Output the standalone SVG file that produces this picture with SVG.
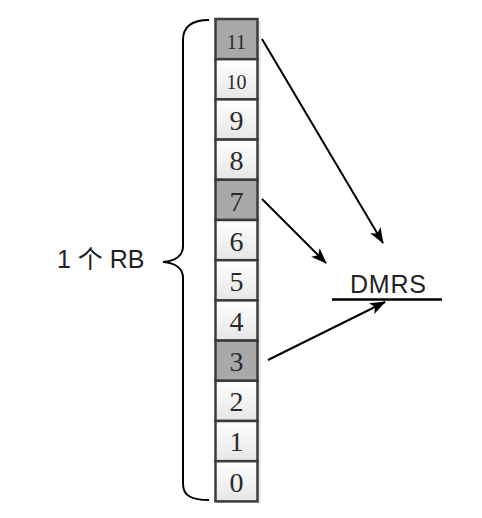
<svg xmlns="http://www.w3.org/2000/svg" width="482" height="518" viewBox="0 0 482 518">
<defs>
<linearGradient id="lg" x1="0" y1="0" x2="0" y2="1">
<stop offset="0" stop-color="#ffffff"/>
<stop offset="1" stop-color="#e6e6e6"/>
</linearGradient>
<marker id="ah" markerUnits="userSpaceOnUse" viewBox="0 0 16 12" refX="15" refY="6" markerWidth="16" markerHeight="12" orient="auto">
<path d="M0,0 L16,6 L0,12 L4,6 z" fill="#000"/>
</marker>
</defs>
<style>
.cl{fill:url(#lg);stroke:#3c3c3c;stroke-width:2.5}
.cd{fill:#a9a9a9;stroke:#3c3c3c;stroke-width:2.5}
.n{font-family:"Liberation Serif",serif;font-size:28px;fill:#2a2a2a;text-anchor:middle}
.ns{font-size:20px}
.t{font-family:"Liberation Sans","Noto Sans CJK SC",sans-serif;font-size:25px;fill:#222}
.c{stroke:#000;stroke-width:2;fill:none}
</style>
<rect x="219" y="21" width="42" height="482" fill="#d8d8d8" opacity="0.5"/>
<g id="c11"><rect class="cd" x="215.5" y="19" width="42" height="40.2"/><text class="n ns" x="236.5" y="49">11</text></g>
<g id="c10"><rect class="cl" x="215.5" y="59.2" width="42" height="40.2"/><text class="n ns" x="236.5" y="89">10</text></g>
<g id="c9"><rect class="cl" x="215.5" y="99.4" width="42" height="40.2"/><text class="n" x="236.5" y="129.5">9</text></g>
<g id="c8"><rect class="cl" x="215.5" y="139.6" width="42" height="40.2"/><text class="n" x="236.5" y="169.5">8</text></g>
<g id="c7"><rect class="cd" x="215.5" y="179.8" width="42" height="40.2"/><text class="n" x="236.5" y="211">7</text></g>
<g id="c6"><rect class="cl" x="215.5" y="220" width="42" height="40.2"/><text class="n" x="236.5" y="250.5">6</text></g>
<g id="c5"><rect class="cl" x="215.5" y="260.2" width="42" height="40.2"/><text class="n" x="236.5" y="290.5">5</text></g>
<g id="c4"><rect class="cl" x="215.5" y="300.4" width="42" height="40.2"/><text class="n" x="236.5" y="330.5">4</text></g>
<g id="c3"><rect class="cd" x="215.5" y="340.6" width="42" height="40.2"/><text class="n" x="236.5" y="371">3</text></g>
<g id="c2"><rect class="cl" x="215.5" y="380.8" width="42" height="40.2"/><text class="n" x="236.5" y="411">2</text></g>
<g id="c1"><rect class="cl" x="215.5" y="421" width="42" height="40.2"/><text class="n" x="236.5" y="451">1</text></g>
<g id="c0"><rect class="cl" x="215.5" y="461.2" width="42" height="40.2"/><text class="n" x="236.5" y="491.5">0</text></g>
<g id="brace">
<path class="c" d="M209,20 C192,20 183,26 183,40 L183,246 C183,255 176,261 163,262 C176,263 183,269 183,278 L183,484 C183,496 192,500 209,500"/>
<text class="t" x="57" y="268">1 个 RB</text>
</g>
<g id="dmrs">
<text class="t" x="350" y="293" textLength="76">DMRS</text>
<line x1="332" y1="299.5" x2="442" y2="299.5" stroke="#000" stroke-width="2.5"/>
</g>
<g id="connectors">
<line class="c" x1="262" y1="39" x2="383" y2="243" marker-end="url(#ah)"/>
<line class="c" x1="262" y1="199" x2="326" y2="263" marker-end="url(#ah)"/>
<line class="c" x1="268" y1="360" x2="385" y2="302" marker-end="url(#ah)"/>
</g>
</svg>
